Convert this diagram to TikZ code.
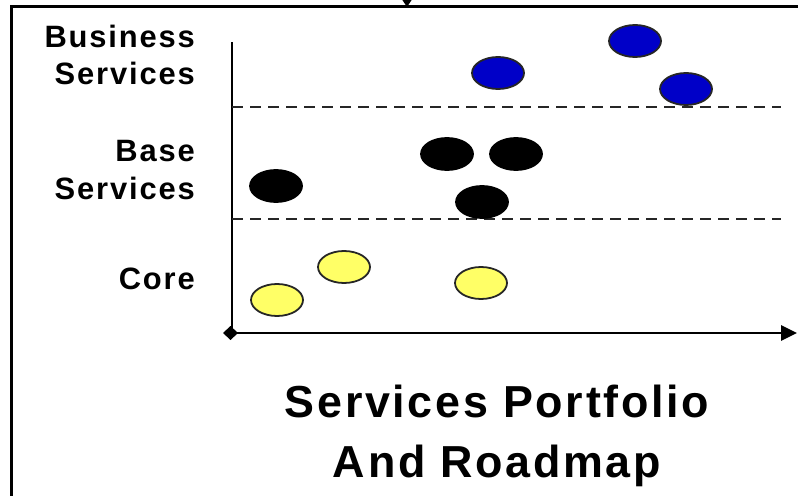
\documentclass[tikz,border=0pt]{standalone}
\usepackage{fontspec}
\setmainfont{Liberation Sans}[LetterSpace=6]
\usetikzlibrary{shapes.geometric,arrows.meta}
\definecolor{bizblue}{RGB}{0,0,200}
\definecolor{coreyellow}{RGB}{255,255,102}

\begin{document}
\begin{tikzpicture}[x=1bp,y=-1bp,
    svc/.style={ellipse,draw=black!85,line width=1.8bp,minimum width=52bp,minimum height=32bp,inner sep=0pt},
    bizsvc/.style={svc,fill=bizblue},
    basesvc/.style={svc,fill=black,draw=black},
    coresvc/.style={svc,fill=coreyellow},
    lanelabel/.style={font=\fontsize{31}{38}\selectfont\bfseries,align=right,anchor=east,inner sep=0pt},
    laneline/.style={dash pattern=on 11bp off 7bp,line width=2.4bp,black!85},
    axisline/.style={line width=2.6bp}]
\useasboundingbox (0,0) rectangle (798,496);
    % frame
    \draw[line width=3bp] (11,496) -- (11,7) -- (798,7);
    \coordinate (feedtop) at (407,-30);
    \coordinate (feedend) at (407,7);
    \draw[line width=2bp,-{Triangle[length=8bp,width=10bp]}] (feedtop) -- (feedend);
    % axes
    \coordinate (ytop) at (232,42);
    \coordinate (ybot) at (232,333);
    \coordinate (xstart) at (223,333);
    \coordinate (xend) at (797,333);
    \draw[axisline] (ybot) -- (ytop);
    \draw[axisline,{Diamond[length=15bp,width=14bp]}-{Triangle[length=16bp,width=15bp]}] (xstart) -- (xend);
    \coordinate (lane1w) at (232,107);
    \coordinate (lane1e) at (781,107);
    \coordinate (lane2w) at (232,219);
    \coordinate (lane2e) at (781,219);
    \draw[laneline] (lane1w) -- (lane1e);
    \draw[laneline] (lane2w) -- (lane2e);
    % lane labels
    \node[lanelabel] (bizlabel) at (195,55) {Business\\Services};
    \node[lanelabel] (baselabel) at (195,170) {Base\\Services};
    \node[lanelabel] (corelabel) at (195,279) {Core};
    % services
    \node[bizsvc] (biz1) at (498,73) {};
    \node[bizsvc] (biz2) at (635,41) {};
    \node[bizsvc] (biz3) at (686,89) {};
    \node[basesvc] (base1) at (276,186) {};
    \node[basesvc] (base2) at (447,154) {};
    \node[basesvc] (base3) at (516,154) {};
    \node[basesvc] (base4) at (482,202) {};
    \node[coresvc] (core1) at (277,300) {};
    \node[coresvc] (core2) at (344,267) {};
    \node[coresvc] (core3) at (481,283) {};
    % title
    \node[font=\fontsize{45}{60}\selectfont\bfseries,align=center,inner sep=0pt] (title) at (497,436) {Services Portfolio\\And Roadmap};
\end{tikzpicture}
\end{document}
